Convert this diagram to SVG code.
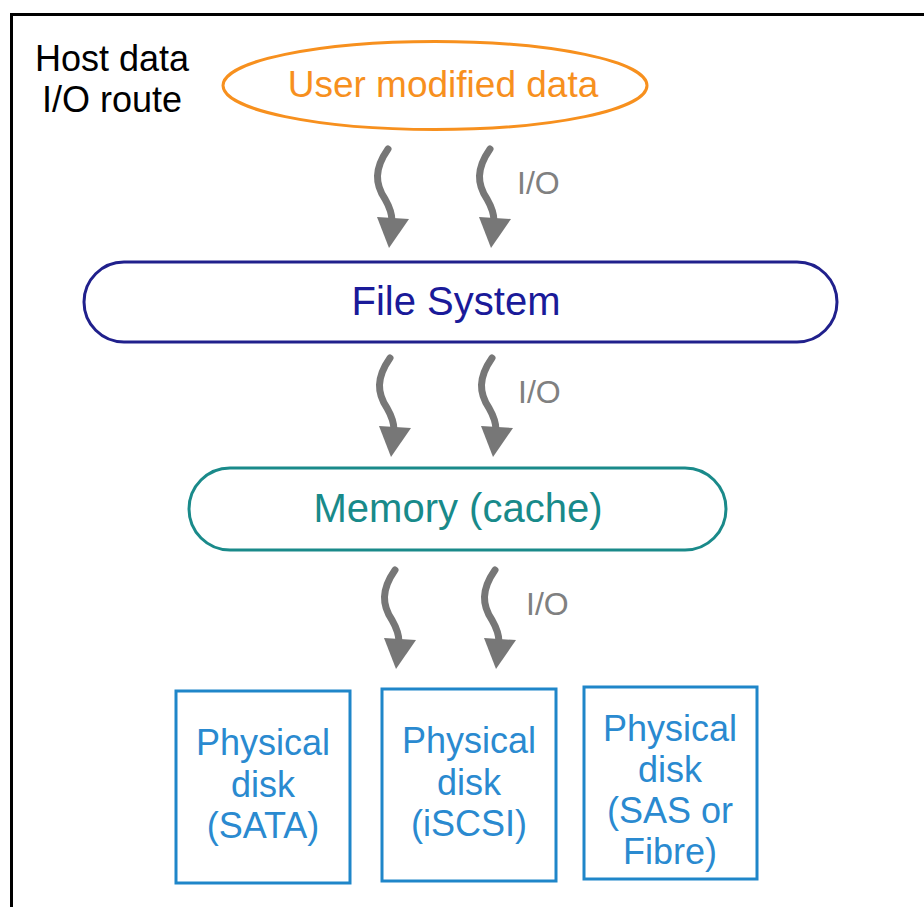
<svg xmlns="http://www.w3.org/2000/svg" width="924" height="907" viewBox="0 0 924 907">
<style>
  text { font-family: "Liberation Sans", Arial, sans-serif; text-anchor: middle; }
  .host { font-size: 36px; fill: #000; }
  .io { font-size: 32px; fill: #808080; text-anchor: start; }
  .disk { fill: #fff; stroke: #1f86c9; stroke-width: 3; }
  .disktxt { font-size: 36px; fill: #2a8ad0; }
  .wire { fill: none; stroke: #777; stroke-width: 7; stroke-linecap: round; }
  .head { fill: #777; }
</style>
<defs>
  <g id="arrow">
    <path class="wire" d="M0,0 C-14,20 -13,35 -3,50 C1,57 4,63 4,72"/>
    <polygon class="head" points="-11,68 21,70 1,99"/>
  </g>
</defs>
<rect width="924" height="907" fill="#fff"/>
<rect x="11.5" y="14.5" width="1000" height="1000" fill="none" stroke="#000" stroke-width="3"/>

<g id="title">
  <text class="host" x="112" y="71">Host data</text>
  <text class="host" x="112" y="112">I/O route</text>
</g>

<g id="user-data">
  <ellipse cx="435" cy="85.5" rx="212" ry="44" fill="#fff" stroke="#f7901e" stroke-width="3"/>
  <text x="443" y="97" font-size="37" fill="#f7901e">User modified data</text>
</g>

<g id="file-system">
  <rect x="84" y="262" width="753" height="80" rx="40" ry="40" fill="#fff" stroke="#20208c" stroke-width="3"/>
  <text x="456" y="315" font-size="40" fill="#1a1a99">File System</text>
</g>

<g id="memory">
  <rect x="189" y="468" width="537" height="82" rx="41" ry="41" fill="#fff" stroke="#1a8a8a" stroke-width="3"/>
  <text x="458" y="522" font-size="40" fill="#188a8a">Memory (cache)</text>
</g>

<g id="disk-sata">
  <rect class="disk" x="176" y="691" width="174" height="192"/>
  <text class="disktxt" x="263" y="755">Physical</text>
  <text class="disktxt" x="263" y="797">disk</text>
  <text class="disktxt" x="263" y="838">(SATA)</text>
</g>

<g id="disk-iscsi">
  <rect class="disk" x="382" y="689" width="174" height="192"/>
  <text class="disktxt" x="469" y="753">Physical</text>
  <text class="disktxt" x="469" y="795">disk</text>
  <text class="disktxt" x="469" y="836">(iSCSI)</text>
</g>

<g id="disk-sas">
  <rect class="disk" x="584" y="687" width="173" height="192"/>
  <text class="disktxt" x="670" y="741">Physical</text>
  <text class="disktxt" x="670" y="782">disk</text>
  <text class="disktxt" x="670" y="823">(SAS or</text>
  <text class="disktxt" x="670" y="864">Fibre)</text>
</g>

<g id="connectors">
  <use href="#arrow" transform="translate(388,149)"/>
  <use href="#arrow" transform="translate(490,149)"/>
  <text class="io" x="517" y="194">I/O</text>
  <use href="#arrow" transform="translate(390,358)"/>
  <use href="#arrow" transform="translate(492,358)"/>
  <text class="io" x="518" y="403">I/O</text>
  <use href="#arrow" transform="translate(395,570)"/>
  <use href="#arrow" transform="translate(495,570)"/>
  <text class="io" x="526" y="615">I/O</text>
</g>
</svg>
